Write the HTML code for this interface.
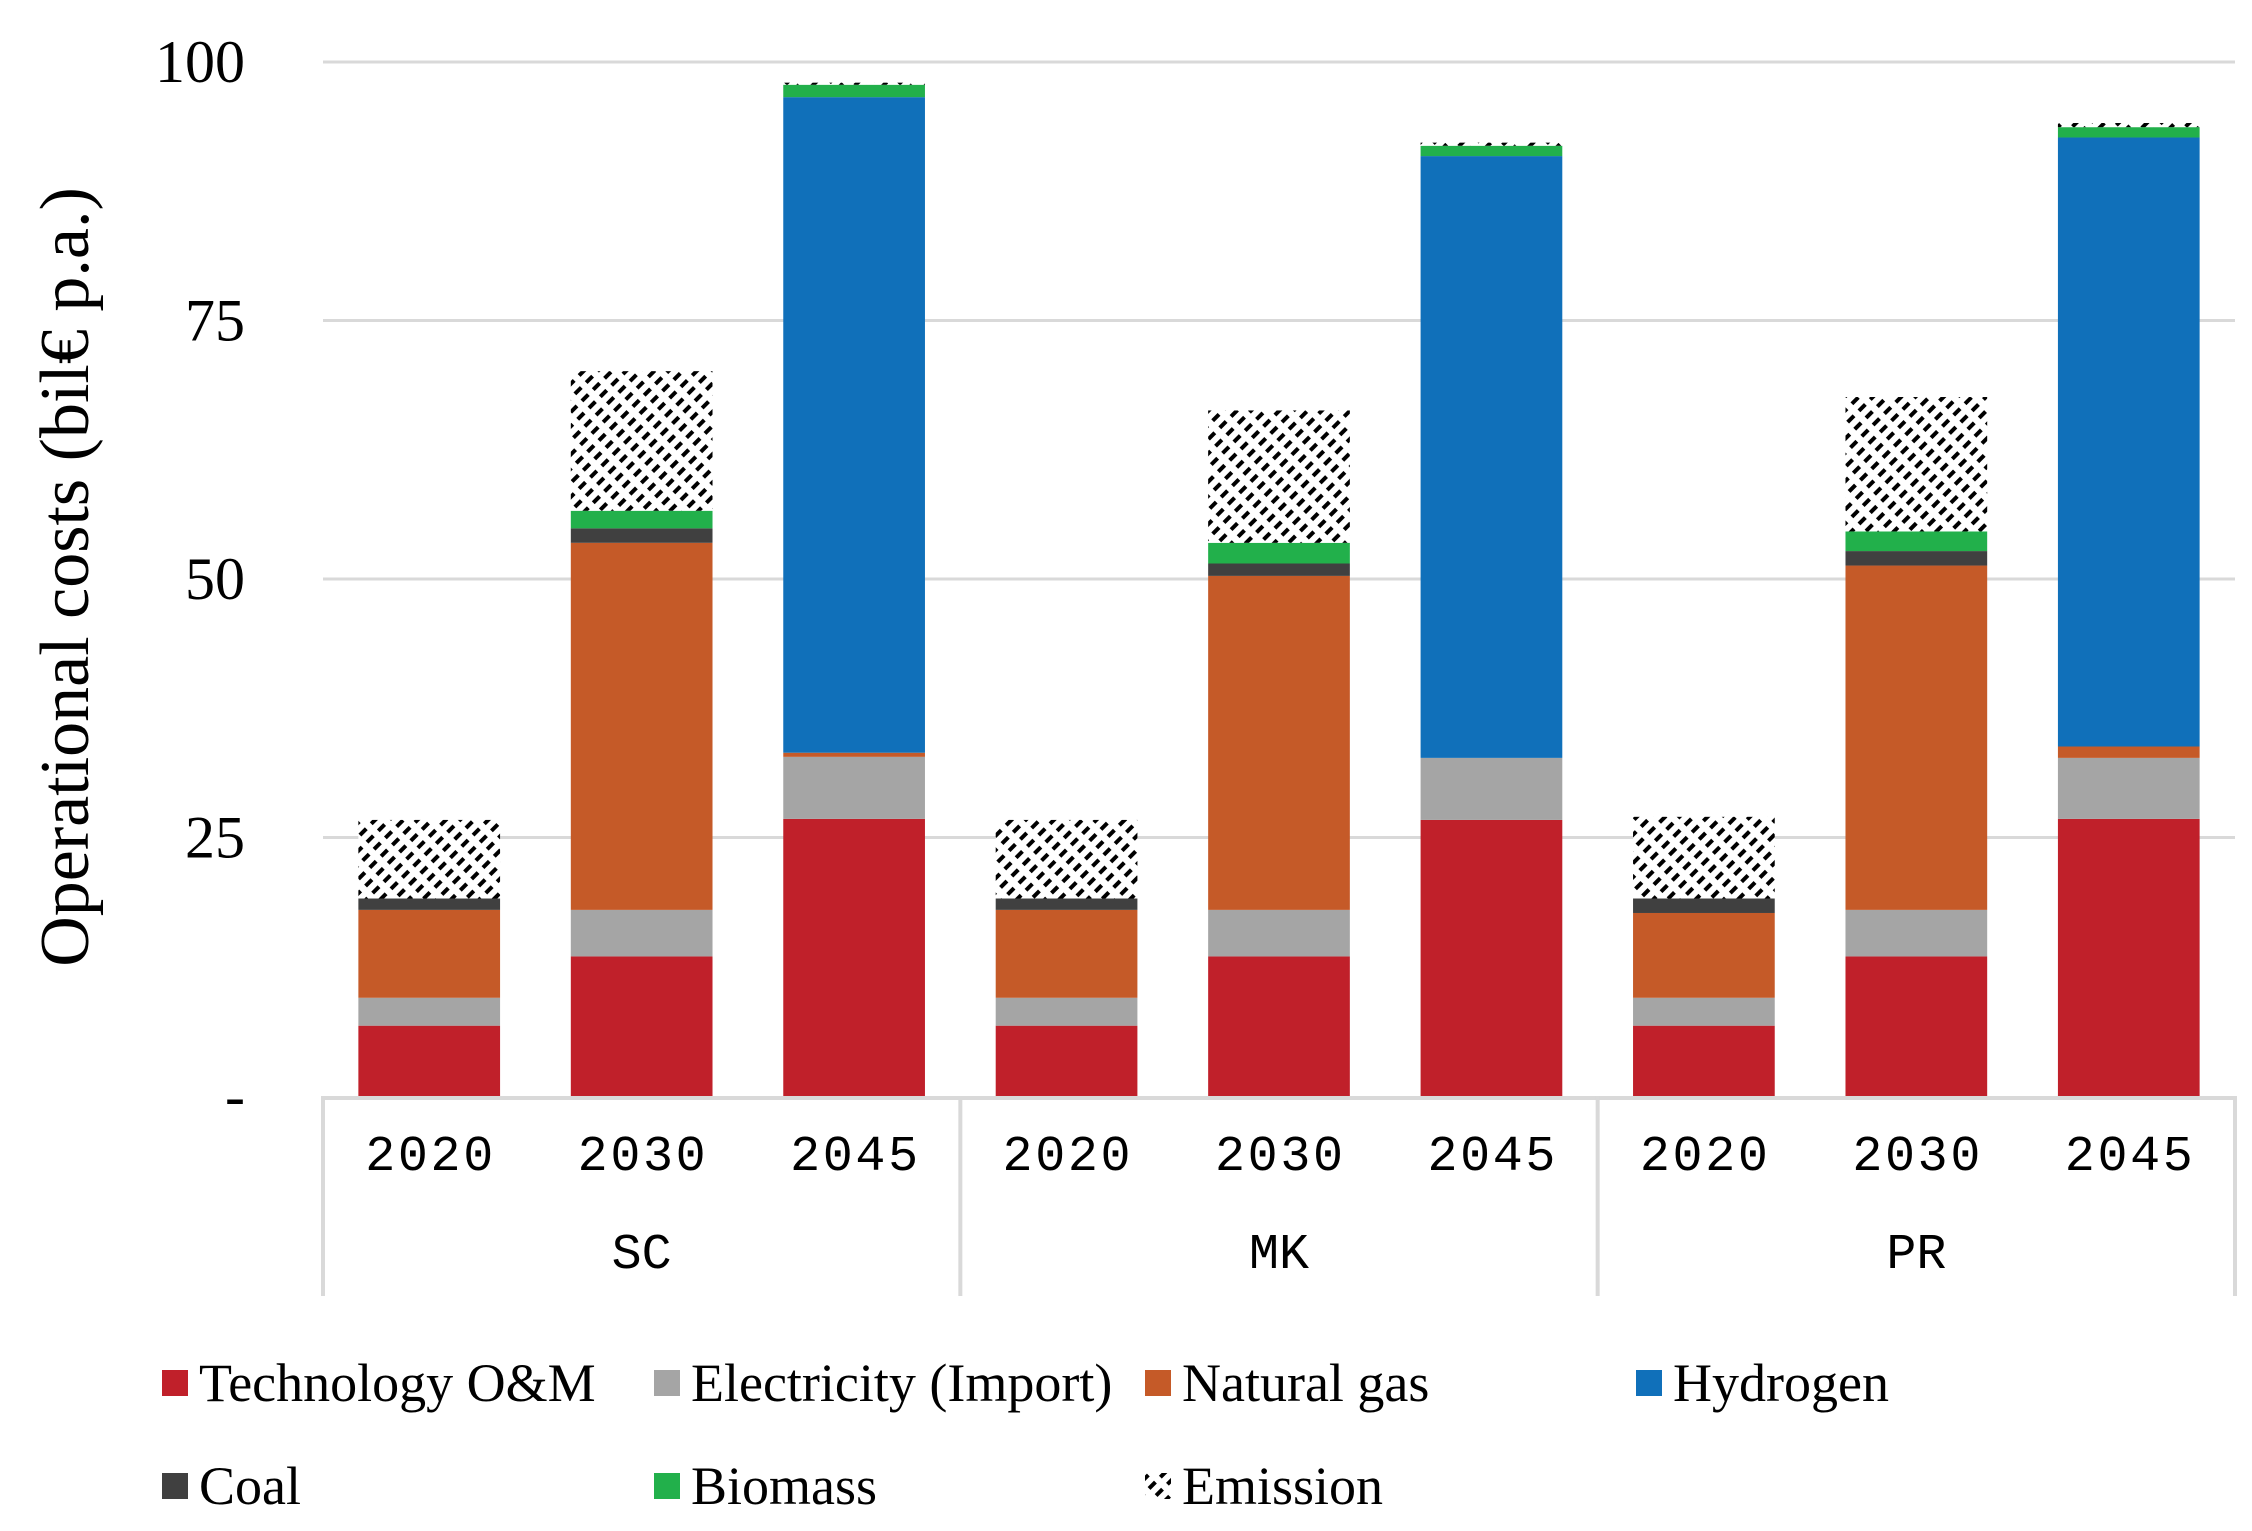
<!DOCTYPE html>
<html><head><meta charset="utf-8"><style>
html,body{margin:0;padding:0;background:#fff;}
svg{display:block;}
text{font-family:"Liberation Serif",serif;fill:#000;}
.mono{font-family:"Liberation Mono",monospace;}
</style></head><body>
<svg id="chart" width="2252" height="1531" viewBox="0 0 2252 1531" xmlns="http://www.w3.org/2000/svg">
<defs>
<pattern id="hatch" width="16" height="10" patternUnits="userSpaceOnUse" patternTransform="rotate(-45)">
<rect width="16" height="10" fill="#fff"/>
<line x1="0" y1="5" x2="9" y2="5" stroke="#000" stroke-width="4"/>
</pattern>
</defs>
<g id="grid"></g>
<g id="bars"></g>
<g id="axes"></g>
<text transform="translate(88,577) rotate(-90)" text-anchor="middle" font-size="70">Operational costs (bil€ p.a.)</text>
<g id="legend"></g>
</svg>
<script>
const groups = ["SC","MK","PR"];
const years = ["2020","2030","2045"];
const seriesNames = ["Technology O&M","Electricity (Import)","Natural gas","Coal","Hydrogen","Biomass","Emission"];
const omVals   = [6.8,13.5,26.8, 6.8,13.5,26.7, 6.8,13.5,26.8];
const elecVals = [2.7,4.5,6.0, 2.7,4.5,6.0, 2.7,4.5,5.9];
const gasVals  = [8.5,35.5,0.4, 8.5,32.3,0.0, 8.2,33.3,1.1];
const coalVals = [1.1,1.4,0.0, 1.1,1.2,0.0, 1.4,1.4,0.0];
const h2Vals   = [0,0,63.4, 0,0,58.2, 0,0,58.9];
const bioVals  = [0,1.7,1.2, 0,2.0,1.0, 0,1.9,1.0];
const emVals   = [7.6,13.5,0.2, 7.6,12.8,0.3, 7.9,13.0,0.4];
const yTicks = [0,25,50,75,100];
const yTickLabels = ["-","25","50","75","100"];

const NS="http://www.w3.org/2000/svg";
const colors=["#C0202A","#A5A5A5","#C55A28","#404040","#1070BA","#22B04B","url(#hatch)"];
const plotL=323, plotR=2235, y0=1096, pxPer=10.34;
const catW=(plotR-plotL)/9, barW=catW*0.667;
function yScale(v){return y0-v*pxPer;}
function xCenter(i){return plotL+catW*(i+0.5);}
function mk(tag,attrs,parent){const e=document.createElementNS(NS,tag);for(const k in attrs)e.setAttribute(k,attrs[k]);parent.appendChild(e);return e;}
const grid=document.getElementById('grid'),bars=document.getElementById('bars'),axes=document.getElementById('axes'),legend=document.getElementById('legend');
yTicks.forEach((t,i)=>{
  if(t>0){const l=mk('line',{x1:plotL,x2:plotR,y1:yScale(t),y2:yScale(t),stroke:'#d9d9d9','stroke-width':3},grid);
  
  }
  const tx=mk('text',{x:245,y:yScale(t)+20,'text-anchor':'end','font-size':60},axes);
  tx.textContent=yTickLabels[i];
  
  
});
const all=[omVals,elecVals,gasVals,coalVals,h2Vals,bioVals,emVals];
for(let i=0;i<9;i++){
  let acc=0;
  all.forEach((arr,s)=>{
    const v=arr[i]; if(v<=0) return;
    const r=mk('rect',{x:xCenter(i)-barW/2,y:yScale(acc+v),width:barW,height:v*pxPer,fill:colors[s]},bars);
    
    
    acc+=v;
  });
}
const ax=mk('line',{x1:plotL,x2:plotR,y1:y0+2,y2:y0+2,stroke:'#d9d9d9','stroke-width':4},axes);


for(let g=0;g<=3;g++){
  const x=plotL+catW*3*g;
  const l=mk('line',{x1:x,x2:x,y1:y0,y2:1296,stroke:'#d9d9d9','stroke-width':4},axes);
  
  
}
for(let i=0;i<9;i++){
  const t=mk('text',{x:xCenter(i),y:1170,'text-anchor':'middle','font-size':50,class:'mono',textLength:128,lengthAdjust:'spacing',fill:'#222'},axes);
  t.textContent=years[i%3];
  
  
}
groups.forEach((g,k)=>{
  const t=mk('text',{x:xCenter(k*3+1),y:1268,'text-anchor':'middle','font-size':50,class:'mono',fill:'#222'},axes);
  t.textContent=g;
  
  
});
// legend positions by series index: O&M, Elec, Gas, Coal, H2, Bio, Emission
const legPos=[[162,1370],[654,1370],[1145,1370],[162,1473],[1636,1370],[654,1473],[1145,1473]];
seriesNames.forEach((n,s)=>{
  const [lx,ly]=legPos[s];
  const g=mk('g',{},legend);
  
  
  mk('rect',{x:lx,y:ly,width:26,height:26,fill:colors[s]},g);
  const t=mk('text',{x:lx+37,y:ly+31,'font-size':54},g);
  t.textContent=n;
});
</script>
</body></html>
